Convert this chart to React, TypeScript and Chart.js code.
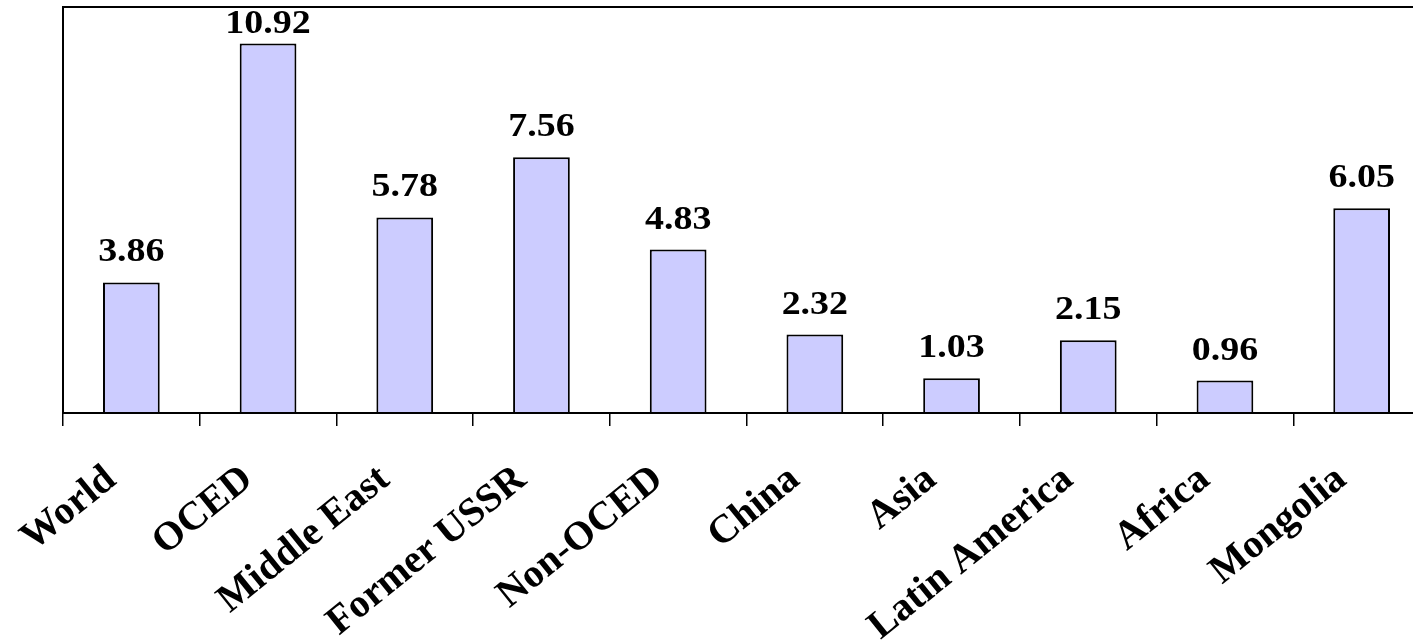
import React, { useEffect, useRef } from "react";
import { Chart, registerables } from "chart.js";

Chart.register(...registerables);

// Region names along the category axis
const categories = [
  "World",
  "OCED",
  "Middle East",
  "Former USSR",
  "Non-OCED",
  "China",
  "Asia",
  "Latin America",
  "Africa",
  "Mongolia",
];

// Value for each region
const values = [3.86, 10.92, 5.78, 7.56, 4.83, 2.32, 1.03, 2.15, 0.96, 6.05];

// Value axis range (no tick labels shown)
const yMin = 0;
const yMax = 12;

const SERIF = "'Liberation Serif', 'Times New Roman', Times, serif";

// Writes each bar's value above it, kept inside the plot area
const valueLabelPlugin = {
  id: "valueLabels",
  afterDatasetsDraw(chart: any) {
    const ctx: CanvasRenderingContext2D = chart.ctx;
    const meta = chart.getDatasetMeta(0);
    const top = chart.chartArea.top;
    ctx.save();
    ctx.font = `bold 33px ${SERIF}`;
    ctx.fillStyle = "#000";
    ctx.textAlign = "center";
    ctx.textBaseline = "alphabetic";
    meta.data.forEach((bar: any, i: number) => {
      const { x, y } = bar.getProps(["x", "y"], true);
      const baseline = Math.max(y - 21, top + 26);
      ctx.save();
      ctx.translate(x, baseline);
      ctx.scale(1.15, 1);
      ctx.fillText(values[i].toFixed(2), 0, 0);
      ctx.restore();
    });
    ctx.restore();
  },
};

export default function App() {
  const canvasRef = useRef<HTMLCanvasElement | null>(null);

  useEffect(() => {
    document.body.style.margin = "0";
    document.body.style.overflow = "hidden";
    const canvas = canvasRef.current;
    if (!canvas) return;

    const chart = new Chart(canvas, {
      type: "bar",
      data: {
        labels: categories,
        datasets: [
          {
            data: values,
            backgroundColor: "#CCCCFF",
            borderColor: "#000",
            borderWidth: 2,
            barPercentage: 0.415,
            categoryPercentage: 1,
          },
        ],
      },
      options: {
        animation: false,
        responsive: true,
        maintainAspectRatio: false,
        layout: { padding: { left: 63, top: 7, right: 10, bottom: 0 } },
        plugins: {
          legend: { display: false },
          tooltip: { enabled: false },
        },
        scales: {
          x: {
            grid: {
              display: true,
              offset: true,
              drawOnChartArea: false,
              drawTicks: true,
              tickLength: 13,
              color: "#000",
              lineWidth: 1.5,
            },
            border: { display: true, color: "#000", width: 2 },
            ticks: {
              autoSkip: false,
              minRotation: 39,
              maxRotation: 39,
              padding: 30,
              labelOffset: -20,
              color: "#000",
              font: { family: SERIF, size: 40, weight: "bold" },
            },
            afterFit(scale: any) {
              scale.height = 231;
            },
          },
          y: {
            min: yMin,
            max: yMax,
            ticks: { display: false, stepSize: 12 },
            grid: {
              drawTicks: false,
              color: (c: any) => (c.tick && c.tick.value === yMax ? "#000" : "transparent"),
              lineWidth: 2,
            },
            border: { display: true, color: "#000", width: 2 },
          },
        },
      },
      plugins: [valueLabelPlugin],
    });

    return () => chart.destroy();
  }, []);

  return (
    <div style={{ width: 1413, height: 644, overflow: "hidden", position: "relative" }}>
      <div style={{ width: 1440, height: 644, position: "absolute", left: 0, top: 0 }}>
        <canvas ref={canvasRef} />
      </div>
    </div>
  );
}
